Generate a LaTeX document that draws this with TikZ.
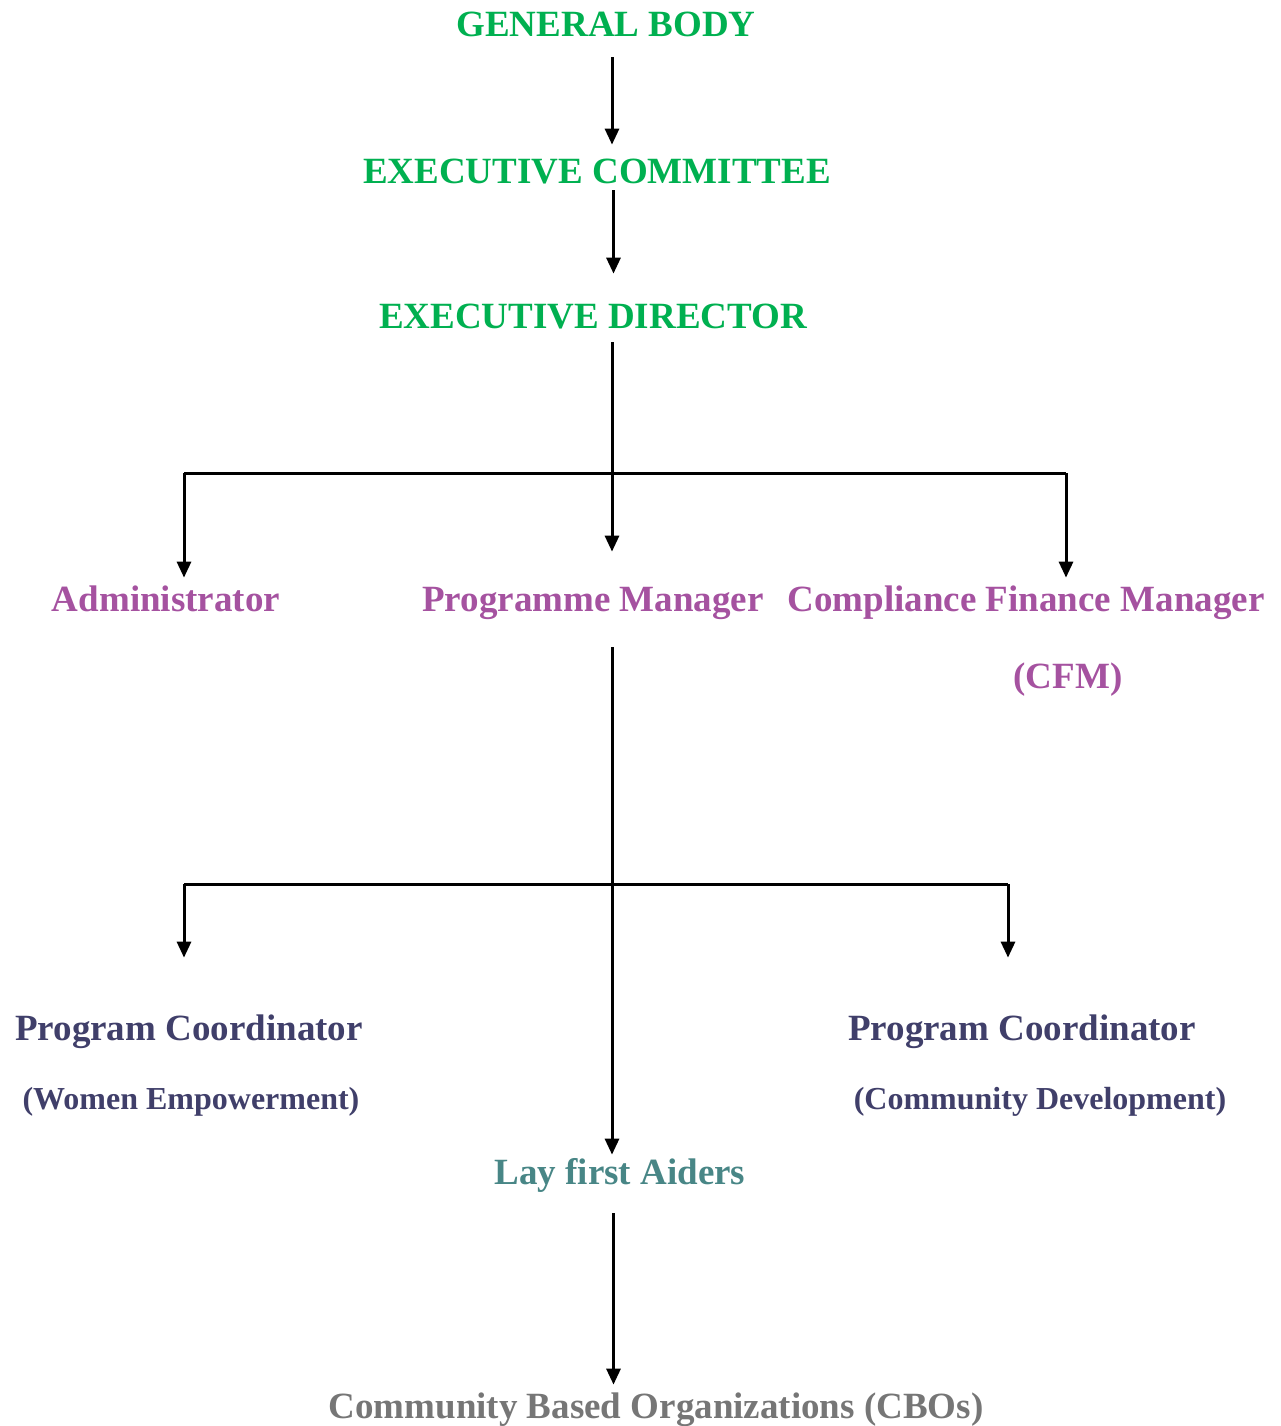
\documentclass[tikz,border=0pt]{standalone}
\usepackage{fontspec}
\setmainfont{Liberation Serif}
\usetikzlibrary{arrows.meta}

\definecolor{bodygreen}{RGB}{0,176,80}
\definecolor{mgrpurple}{RGB}{165,82,160}
\definecolor{coordnavy}{RGB}{64,63,106}
\definecolor{aidteal}{RGB}{72,134,134}
\definecolor{cbogray}{RGB}{118,118,118}

\tikzset{every picture/.style={line width=0.75pt}}
\tikzset{
  lbl/.style={inner sep=0pt,anchor=base,text height=25pt,text depth=8pt,font=\bfseries\fontsize{37}{40}\selectfont},
  sublbl/.style={lbl,font=\bfseries\fontsize{32}{36}\selectfont},
  conn/.style={line width=3pt},
  arr/.style={conn,-{Triangle[width=14pt,length=16pt]}}
}

\begin{document}
\begin{tikzpicture}[x=1pt,y=1pt,yscale=-1,xscale=1]
        \useasboundingbox (0,0) rectangle (1281,1426);

        % Text Node
        \node [lbl,color=bodygreen] (gb) at (606,37) {GENERAL BODY};
        % Text Node
        \node [lbl,color=bodygreen] (ec) at (597,183) {EXECUTIVE COMMITTEE};
        % Text Node
        \node [lbl,color=bodygreen] (ed) at (593,328) {EXECUTIVE DIRECTOR};
        % Text Node
        \node [lbl,color=mgrpurple] (adm) at (166,611) {Administrator};
        % Text Node
        \node [lbl,color=mgrpurple] (pm) at (593,611) {Programme Manager};
        % Text Node
        \node [lbl,color=mgrpurple] (cfm) at (1026,611) {Compliance Finance Manager};
        \node [lbl,color=mgrpurple] (cfmb) at (1068,688) {(CFM)};
        % Text Node
        \node [lbl,color=coordnavy] (pcw) at (189,1040) {Program Coordinator};
        \node [sublbl,color=coordnavy] (pcwb) at (191,1109) {(Women Empowerment)};
        % Text Node
        \node [lbl,color=coordnavy] (pcc) at (1022,1040) {Program Coordinator};
        \node [sublbl,color=coordnavy] (pccb) at (1040,1109) {(Community Development)};
        % Text Node
        \node [lbl,color=aidteal] (lay) at (620,1184) {Lay first Aiders};
        % Text Node
        \node [lbl,color=cbogray] (cbo) at (656,1418) {Community Based Organizations (CBOs)};

        % Junctions
        \coordinate (sp) at (612,0);
        \coordinate (jal) at (184,473);
        \coordinate (jar) at (1066,473);
        \coordinate (jbl) at (184,884);
        \coordinate (jbr) at (1008,884);
        \coordinate (sq) at (613.5,0);

        %Straight Lines
        \draw [arr,shorten <=12pt,shorten >=13pt] (gb.south -| sp) -- (ec.north -| sp);
        \draw [arr,shorten <=-1pt,shorten >=29pt] (ec.south -| sq) -- (ed.north -| sq);
        \draw [arr,shorten <=6pt,shorten >=34pt] (ed.south -| sp) -- (pm.north -| sp);
        \draw [conn] (jal) -- (jar);
        \draw [arr,shorten >=8pt] (jal) -- (adm.north -| jal);
        \draw [arr,shorten >=8pt] (jar) -- (cfm.north -| jar);
        %Straight Lines
        \draw [arr,shorten <=28pt,shorten >=4pt] (pm.south -| sp) -- (lay.north -| sp);
        \draw [conn] (jbl) -- (jbr);
        \draw [arr,shorten >=57pt] (jbl) -- (pcw.north -| jbl);
        \draw [arr,shorten >=57pt] (jbr) -- (pcc.north -| jbr);
        %Straight Lines
        \draw [arr,shorten <=21pt,shorten >=8pt] (lay.south -| sq) -- (cbo.north -| sq);
\end{tikzpicture}
\end{document}
